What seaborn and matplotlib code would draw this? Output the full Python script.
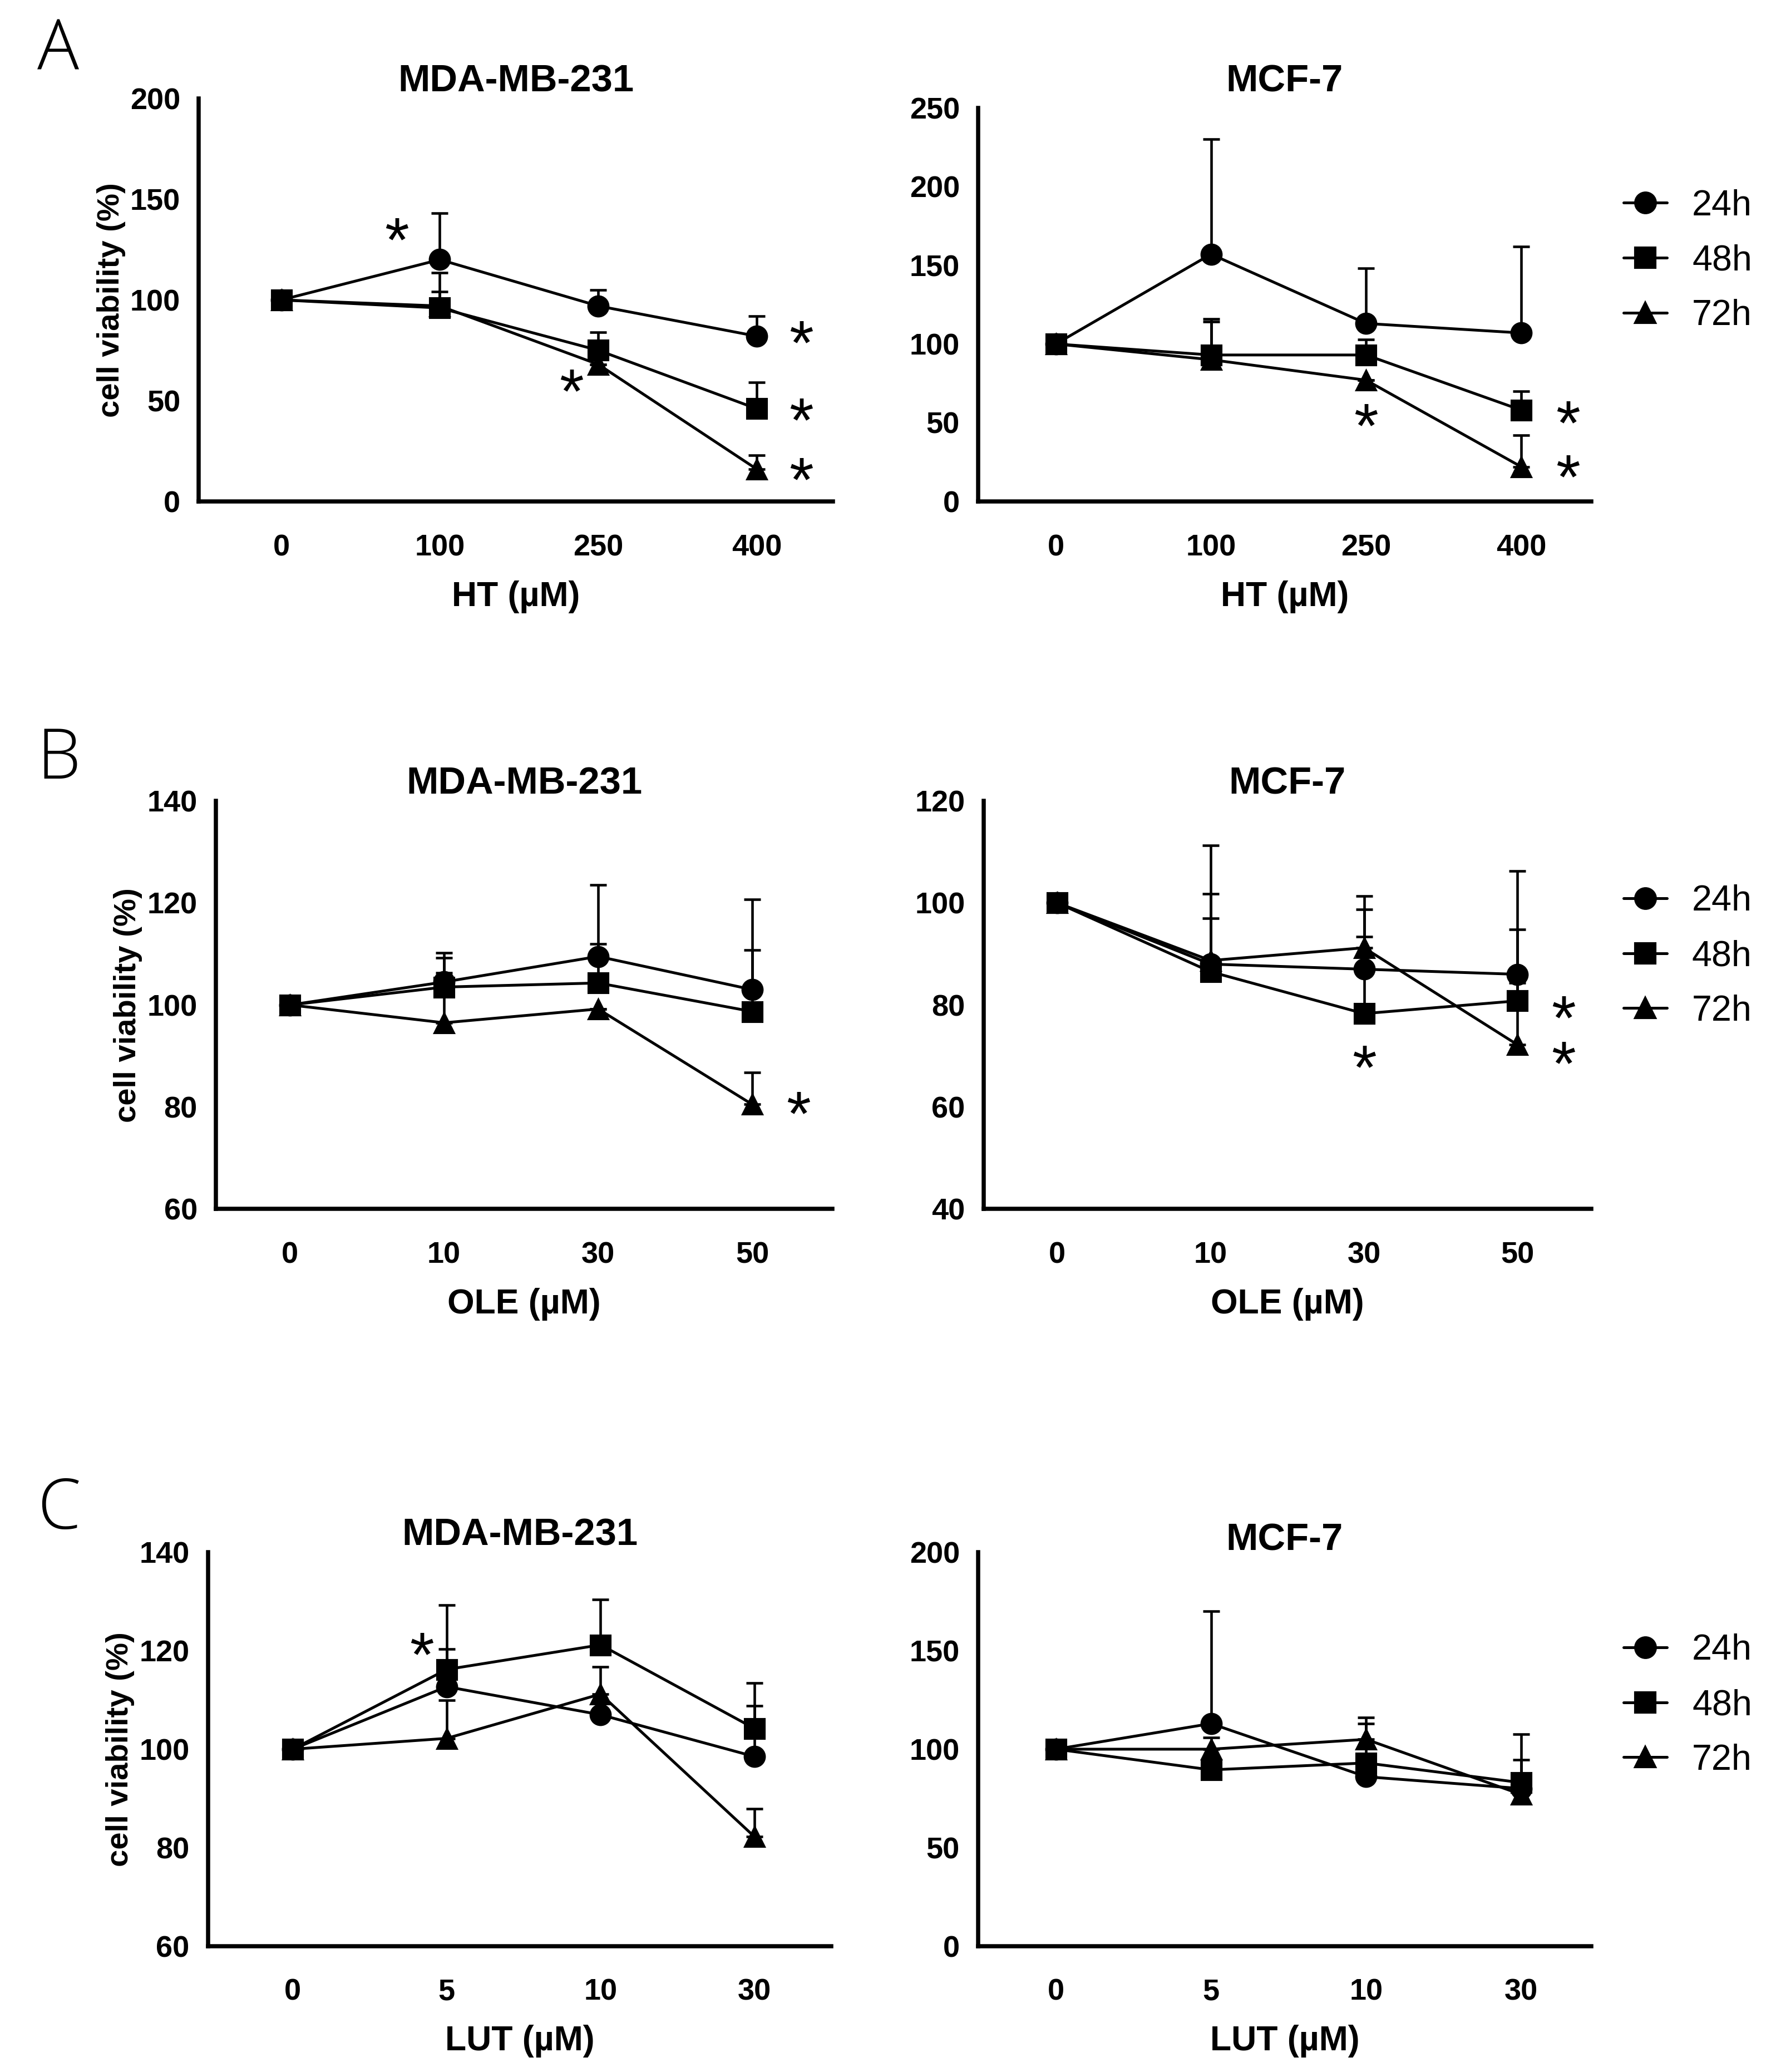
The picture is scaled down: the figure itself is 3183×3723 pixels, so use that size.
import numpy as np
import pandas as pd
import matplotlib
matplotlib.use('Agg')
import matplotlib.pyplot as plt
import seaborn as sns

sns.set_style('white')
plt.rcParams['font.family'] = ['Liberation Sans', 'DejaVu Sans']
plt.rcParams['text.color'] = 'black'
plt.rcParams['axes.labelcolor'] = 'black'
plt.rcParams['xtick.color'] = 'black'
plt.rcParams['ytick.color'] = 'black'

# ---- data ----
times = ['24h', '48h', '72h']

# A: HT
ht_doses = ['0', '100', '250', '400']
ht_mda_mean = {'24h': [100, 120, 97, 82], '48h': [100, 96, 75, 46], '72h': [100, 97, 68, 16]}
ht_mda_top = {'24h': [100, 143, 105, 92], '48h': [100, 113.5, 84, 59], '72h': [100, 104, 68, 23]}
ht_mcf_mean = {'24h': [100, 157, 113, 107], '48h': [100, 93, 93, 58], '72h': [100, 90, 77, 22]}
ht_mcf_top = {'24h': [100, 230, 148, 162], '48h': [100, 116, 103, 70], '72h': [100, 114, 77, 42]}

# B: OLE
ole_doses = ['0', '10', '30', '50']
ole_mda_mean = {'24h': [100, 104.5, 109.5, 103], '48h': [100, 103.5, 104.3, 98.7], '72h': [100, 96.5, 99.2, 80.5]}
ole_mda_top = {'24h': [100, 110.2, 123.5, 120.7], '48h': [100, 109.2, 112, 110.8], '72h': [100, 106.3, 99.2, 86.8]}
ole_mcf_mean = {'24h': [100, 88, 87, 86], '48h': [100, 86.5, 78.3, 80.8], '72h': [100, 88.7, 91.2, 72.2]}
ole_mcf_top = {'24h': [100, 111.3, 98.7, 106.2], '48h': [100, 97, 93.4, 84.3], '72h': [100, 101.8, 101.3, 94.8]}

# C: LUT
lut_doses = ['0', '5', '10', '30']
lut_mda_mean = {'24h': [100, 112.7, 107, 98.5], '48h': [100, 116.2, 121.2, 104.2], '72h': [100, 102.2, 111.2, 82.2]}
lut_mda_top = {'24h': [100, 120.3, 107, 108.8], '48h': [100, 129.3, 130.4, 113.5], '72h': [100, 110, 116.7, 87.9]}
lut_mcf_mean = {'24h': [100, 113, 86, 80], '48h': [100, 89.5, 93, 83], '72h': [100, 100, 105, 77]}
lut_mcf_top = {'24h': [100, 170, 86, 94.5], '48h': [100, 89.5, 113, 107.5], '72h': [100, 106, 116, 77]}

# significance stars: (x position in dose slots, y value)
stars_ht_mda = [(0.73, 133), (1.83, 58), (3.28, 82), (3.28, 43.5), (3.28, 14)]
stars_ht_mcf = [(2.0, 52), (3.3, 54), (3.3, 19.5)]
stars_ole_mda = [(3.3, 80)]
stars_ole_mcf = [(2.0, 69), (3.3, 78.7), (3.3, 69.8)]
stars_lut_mda = [(0.84, 120.5)]
stars_lut_mcf = []

markers = {'24h': 'o', '48h': 's', '72h': '^'}


def to_long(doses, mean, top):
    rows = []
    for t in times:
        for i, d in enumerate(doses):
            rows.append({'pos': i, 'dose': d, 'time': t, 'viab': mean[t][i], 'top': top[t][i]})
    return pd.DataFrame(rows)


def draw_panel(ax, doses, mean, top, ylim, yticks, xlabel, title, stars, xlim,
               ylabel=True, title_pad=3):
    df = to_long(doses, mean, top)
    # one-sided (upper) SD bars, GraphPad style
    for t in times:
        sub = df[df['time'] == t]
        err = np.clip(sub['top'].values - sub['viab'].values, 0, None)
        ax.errorbar(sub['pos'], sub['viab'], yerr=[np.zeros_like(err), err], fmt='none',
                    ecolor='black', elinewidth=1.1, capsize=3.6, capthick=1.1, zorder=2)
    sns.lineplot(data=df, x='pos', y='viab', hue='time', style='time', markers=markers,
                 dashes=False, palette=['black'] * 3, linewidth=1.2, markersize=8.8,
                 markeredgecolor='black', ax=ax, legend=False, zorder=3)
    for sx, sy in stars:
        ax.annotate('*', xy=(sx, sy), xytext=(0, -5), textcoords='offset points',
                    fontsize=27, ha='center', va='center', color='black')
    ax.set_xlim(*xlim)
    ax.set_ylim(*ylim)
    ax.set_yticks(yticks)
    ax.set_xticks(range(len(doses)))
    ax.set_xticklabels(doses)
    sns.despine(ax=ax)
    for s in ['left', 'bottom']:
        ax.spines[s].set_linewidth(1.8)
        ax.spines[s].set_color('black')
    ax.tick_params(axis='both', direction='out', length=6, width=1.8, colors='black',
                   labelsize=13, pad=2)
    ax.tick_params(axis='x', pad=8)
    for lab in ax.get_xticklabels() + ax.get_yticklabels():
        lab.set_fontweight('bold')
    ax.set_xlabel(xlabel, fontsize=15, fontweight='bold', labelpad=8)
    if ylabel:
        ax.set_ylabel('cell viability (%)', fontsize=13.5, fontweight='bold', labelpad=2)
    else:
        ax.set_ylabel('')
    ax.set_title(title, fontsize=16.5, fontweight='bold', pad=title_pad)
    ax.set_facecolor('white')


fig = plt.figure(figsize=(3183 / 300, 3723 / 300), dpi=300)

ax_a1 = fig.add_axes([0.1123, 0.758, 0.358, 0.1945])
ax_a2 = fig.add_axes([0.5524, 0.758, 0.346, 0.190])
ax_b1 = fig.add_axes([0.122, 0.4165, 0.348, 0.197])
ax_b2 = fig.add_axes([0.5554, 0.4165, 0.343, 0.197])
ax_c1 = fig.add_axes([0.1175, 0.0608, 0.352, 0.190])
ax_c2 = fig.add_axes([0.5524, 0.0608, 0.346, 0.190])

draw_panel(ax_a1, ht_doses, ht_mda_mean, ht_mda_top, (0, 200), [0, 50, 100, 150, 200],
           'HT (µM)', 'MDA-MB-231', stars_ht_mda, (-0.52, 3.48))
draw_panel(ax_a2, ht_doses, ht_mcf_mean, ht_mcf_top, (0, 250), [0, 50, 100, 150, 200, 250],
           'HT (µM)', 'MCF-7', stars_ht_mcf, (-0.5, 3.45), ylabel=False, title_pad=7)
draw_panel(ax_b1, ole_doses, ole_mda_mean, ole_mda_top, (60, 140), [60, 80, 100, 120, 140],
           'OLE (µM)', 'MDA-MB-231', stars_ole_mda, (-0.48, 3.52))
draw_panel(ax_b2, ole_doses, ole_mcf_mean, ole_mcf_top, (40, 120), [40, 60, 80, 100, 120],
           'OLE (µM)', 'MCF-7', stars_ole_mcf, (-0.48, 3.48), ylabel=False)
draw_panel(ax_c1, lut_doses, lut_mda_mean, lut_mda_top, (60, 140), [60, 80, 100, 120, 140],
           'LUT (µM)', 'MDA-MB-231', stars_lut_mda, (-0.55, 3.5))
draw_panel(ax_c2, lut_doses, lut_mcf_mean, lut_mcf_top, (0, 200), [0, 50, 100, 150, 200],
           'LUT (µM)', 'MCF-7', stars_lut_mcf, (-0.5, 3.45), ylabel=False, title_pad=1)

# legends to the right of the MCF-7 panels
handles = [plt.Line2D([], [], color='black', linewidth=1.2, marker=markers[t], markersize=8.8)
           for t in times]
for ax in [ax_a2, ax_b2, ax_c2]:
    ax.legend(handles, times, loc='upper left', bbox_to_anchor=(1.03, 0.83), frameon=False,
              fontsize=15.5, handlelength=1.2, handletextpad=0.7, labelspacing=0.6,
              borderaxespad=0)

# panel letters
for letter, y in [('A', 0.975), ('B', 0.633), ('C', 0.271)]:
    fig.text(0.021, y, letter, fontsize=30, family=['Open Sans', 'DejaVu Sans'],
             fontweight='light', va='center', ha='left')

fig.savefig('out.png', dpi=300, facecolor='white')
